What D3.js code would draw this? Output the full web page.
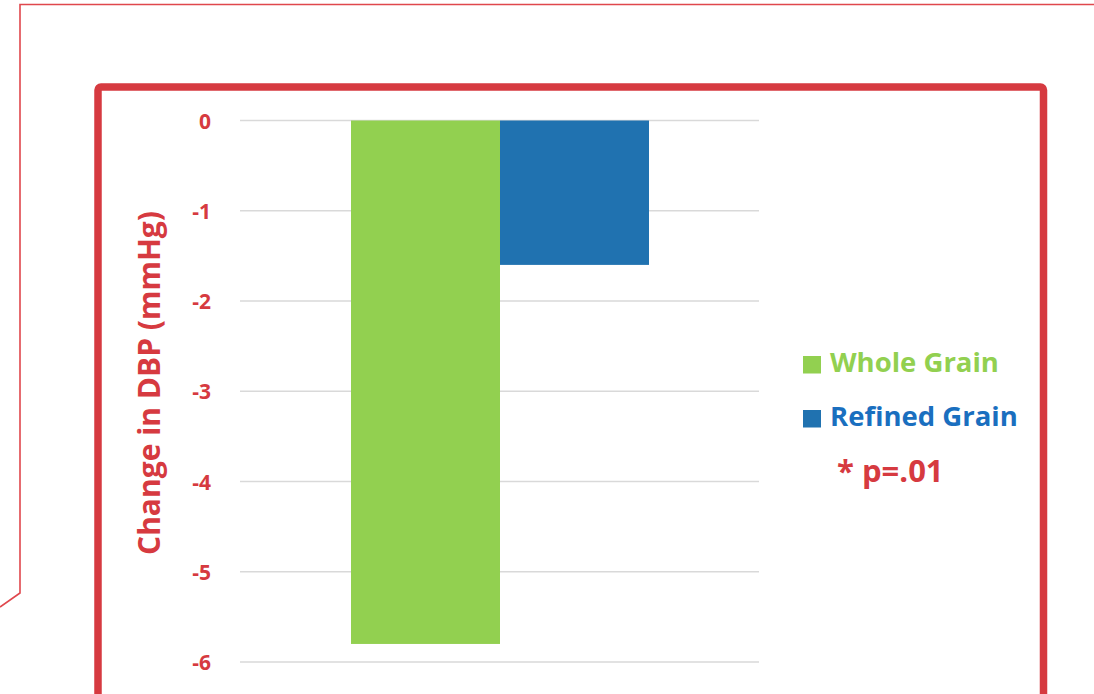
<!DOCTYPE html>
<html>
<head>
<meta charset="utf-8">
<script src="https://cdn.jsdelivr.net/npm/d3@7"></script>
<style>
  html, body { margin: 0; padding: 0; background: #fff; }
  svg { display: block; }
</style>
</head>
<body>
<svg id="chart" width="1094" height="694"></svg>
<script>
// Diastolic blood pressure change by diet
const categories = ["Whole Grain", "Refined Grain"];
const values = [-5.8, -1.6];
const colors = ["#92d050", "#2072b0"];
const textColors = ["#92d050", "#1a6fbf"];
const tickValues = [0, -1, -2, -3, -4, -5, -6];
const axisTitle = "Change in DBP (mmHg)";
const note = "* p=.01";

const red = "#d63a40";
const font = "'Open Sans', sans-serif";
const svg = d3.select("#chart");

// Outer slide frame (thin line with a slanted lower-left corner)
svg.append("path")
  .attr("d", "M0,607 L20,593 L20,4.5 L1100,4.5")
  .attr("fill", "none")
  .attr("stroke", "#e0474d")
  .attr("stroke-width", 1.6);

// Thick chart frame
svg.append("rect")
  .attr("x", 98).attr("y", 87)
  .attr("width", 945.5).attr("height", 640)
  .attr("rx", 3)
  .attr("fill", "none")
  .attr("stroke", red)
  .attr("stroke-width", 7.5);

const plot = { left: 240, right: 759, top: 120.5, bottom: 662 };

const y = d3.scaleLinear().domain([0, -6]).range([plot.top, plot.bottom]);
const x = d3.scaleBand().domain(categories)
  .range([351, 649]).paddingInner(0).paddingOuter(0);

// Gridlines
svg.append("g")
  .selectAll("line")
  .data(tickValues)
  .join("line")
  .attr("x1", plot.left).attr("x2", plot.right)
  .attr("y1", d => y(d)).attr("y2", d => y(d))
  .attr("stroke", "#d9d9d9")
  .attr("stroke-width", 1.5);

// Tick labels via axis
const yAxis = d3.axisLeft(y).tickValues(tickValues).tickSize(0).tickPadding(0)
  .tickFormat(d => d3.format("d")(d).replace("−", "-"));
const gAxis = svg.append("g").attr("transform", "translate(211,0)").call(yAxis);
gAxis.select(".domain").remove();
gAxis.selectAll("text")
  .attr("fill", red)
  .attr("font-family", font)
  .attr("font-weight", "bold")
  .attr("font-size", 21)
  .attr("dy", "0.36em");

// Bars
svg.append("g")
  .selectAll("rect")
  .data(categories.map((c, i) => ({ c, v: values[i], color: colors[i] })))
  .join("rect")
  .attr("x", d => x(d.c))
  .attr("width", x.bandwidth())
  .attr("y", d => y(Math.max(0, d.v)))
  .attr("height", d => Math.abs(y(d.v) - y(0)))
  .attr("fill", d => d.color);

// Axis title
svg.append("text")
  .attr("transform", "translate(160,383) rotate(-90)")
  .attr("text-anchor", "middle")
  .attr("fill", red)
  .attr("font-family", font)
  .attr("font-weight", "bold")
  .attr("font-size", 30)
  .text(axisTitle);

// Legend
const legend = svg.append("g");
const legendY = [356, 410];
categories.forEach((c, i) => {
  legend.append("rect")
    .attr("x", 803).attr("y", legendY[i])
    .attr("width", 18).attr("height", 17.5)
    .attr("fill", colors[i]);
  legend.append("text")
    .attr("x", 830).attr("y", legendY[i] + 16)
    .attr("fill", textColors[i])
    .attr("font-family", font)
    .attr("font-weight", "bold")
    .attr("font-size", 27.5)
    .text(c);
});
legend.append("text")
  .attr("x", 837).attr("y", 482)
  .attr("fill", red)
  .attr("font-family", font)
  .attr("font-weight", "bold")
  .attr("font-size", 31)
  .text(note);
</script>
</body>
</html>
